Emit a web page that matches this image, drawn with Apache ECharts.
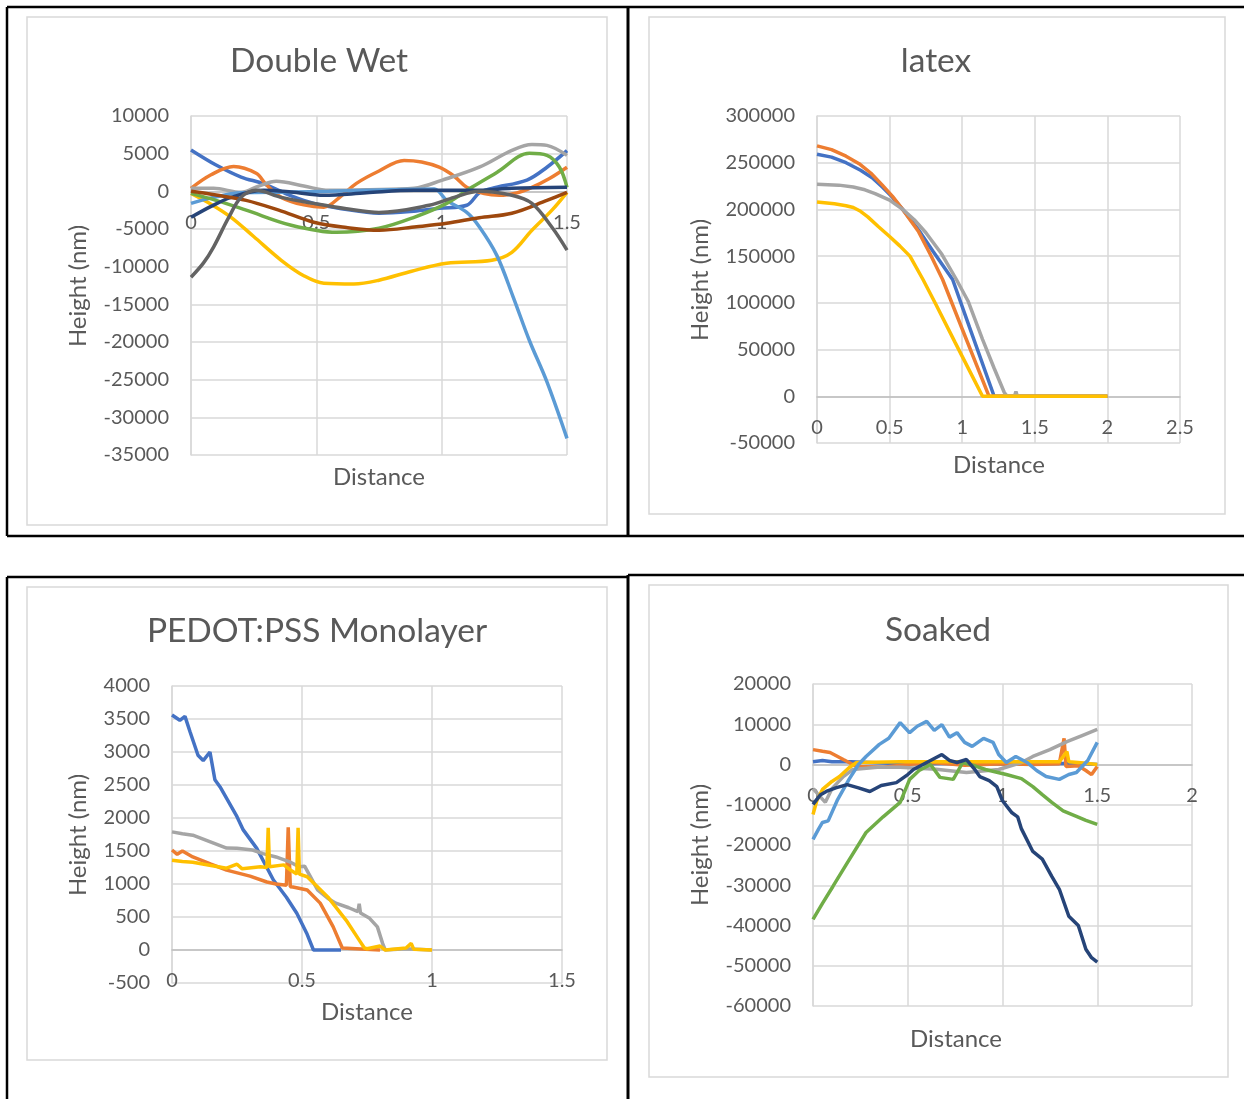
<!DOCTYPE html>
<html>
<head>
<meta charset="utf-8">
<script src="https://cdn.jsdelivr.net/npm/echarts@6/dist/echarts.min.js"></script>
<style>
    html, body { margin: 0; padding: 0; background: #fff; }
    #chart { width: 1244px; height: 1099px; }
</style>
</head>
<body>
<div id="chart"></div>
<script>
// Excel default series colours
const colors = ['#4472C4', '#ED7D31', '#A5A5A5', '#FFC000', '#5B9BD5', '#70AD47', '#264478', '#9E480E', '#636363'];

// ---- Double Wet  (distance, height nm)
const dwBlue = [[0,5500],[0.1,3500],[0.2,1900],[0.29,1000],[0.4,-600],[0.49,-1600],[0.6,-2300],[0.75,-2900],[0.9,-2600],[0.99,-2250],[1.1,-1850],[1.15,-200],[1.2,400],[1.34,1500],[1.42,3200],[1.5,5400]];
const dwOrange = [[0,400],[0.08,2200],[0.17,3300],[0.26,2400],[0.3,900],[0.36,-800],[0.45,-1800],[0.53,-2100],[0.6,-600],[0.66,1060],[0.75,2700],[0.85,4100],[0.92,3900],[0.99,3200],[1.05,2000],[1.1,530],[1.17,-300],[1.23,-530],[1.3,-200],[1.36,530],[1.43,1700],[1.5,3200]];
const dwGray = [[0,400],[0.09,400],[0.2,-130],[0.27,700],[0.34,1330],[0.45,700],[0.55,130],[0.7,200],[0.89,400],[1.0,1460],[1.15,3200],[1.28,5440],[1.36,6230],[1.42,6100],[1.5,4770]];
const dwYellow = [[0,-270],[0.08,-1700],[0.16,-3450],[0.25,-6000],[0.36,-9150],[0.45,-11200],[0.53,-12200],[0.65,-12300],[0.75,-11800],[0.88,-10600],[1.02,-9550],[1.2,-9150],[1.28,-8100],[1.36,-5170],[1.44,-2500],[1.5,-130]];
const dwLightBlue = [[0,-1600],[0.09,-800],[0.2,-200],[0.4,-100],[0.55,0],[0.8,200],[0.97,300],[1.02,-1200],[1.1,-2800],[1.15,-4700],[1.22,-8500],[1.285,-14000],[1.35,-19800],[1.42,-25300],[1.5,-32800]];
const dwGreen = [[0,-270],[0.1,-1200],[0.22,-2500],[0.4,-4500],[0.58,-5440],[0.75,-4900],[0.89,-3450],[1.02,-1600],[1.12,530],[1.22,2500],[1.35,5040],[1.42,4770],[1.47,3200],[1.5,530]];
const dwDarkBlue = [[0,-3450],[0.08,-2000],[0.16,-800],[0.29,130],[0.4,-100],[0.53,-530],[0.7,-200],[0.89,130],[1.15,130],[1.28,400],[1.5,530]];
const dwBrown = [[0,0],[0.1,-500],[0.22,-1200],[0.35,-2500],[0.49,-4100],[0.62,-4800],[0.75,-5170],[0.9,-4700],[1.02,-4250],[1.15,-3500],[1.28,-2900],[1.42,-1200],[1.5,-130]];
const dwDarkGray = [[0,-11400],[0.05,-9500],[0.09,-7400],[0.15,-3500],[0.2,-800],[0.26,130],[0.36,-800],[0.49,-1600],[0.62,-2300],[0.75,-2800],[0.95,-1850],[1.05,-800],[1.15,0],[1.28,-530],[1.36,-1600],[1.44,-4770],[1.5,-7800]];

// ---- latex
const lxBlue = [[0,259000],[0.1,256000],[0.2,250000],[0.3,242000],[0.38,234000],[0.45,224000],[0.52,213000],[0.59,200000],[0.7,178000],[0.8,155000],[0.934,125000],[1.05,74000],[1.22,0],[2.0,0]];
const lxOrange = [[0,268000],[0.1,264000],[0.2,257000],[0.29,249000],[0.37,239000],[0.45,226000],[0.52,214000],[0.59,200000],[0.7,176000],[0.78,152000],[0.865,125000],[1.0,72000],[1.185,0],[2.0,0]];
const lxGray = [[0,227000],[0.15,226000],[0.25,224000],[0.33,221000],[0.4,217000],[0.5,210000],[0.59,200000],[0.67,189000],[0.75,175000],[0.86,152000],[0.96,125000],[1.04,102000],[1.14,61000],[1.22,30000],[1.29,4000],[1.31,0],[1.36,0],[1.37,5000],[1.38,0],[2.0,0]];
const lxYellow = [[0,208000],[0.12,206000],[0.2,204000],[0.25,202000],[0.3,198000],[0.35,192000],[0.42,182000],[0.5,171000],[0.57,161000],[0.64,150000],[0.73,125000],[0.82,98000],[0.95,58000],[1.05,27500],[1.14,0],[2.0,0]];

// ---- PEDOT:PSS Monolayer
const pdBlue = [[0,3560],[0.03,3480],[0.05,3540],[0.07,3300],[0.1,2950],[0.12,2870],[0.146,3000],[0.165,2580],[0.185,2470],[0.25,2020],[0.274,1820],[0.326,1540],[0.39,1060],[0.44,800],[0.48,556],[0.518,255],[0.544,0],[0.65,0]];
const pdOrange = [[0,1515],[0.02,1450],[0.04,1500],[0.08,1410],[0.15,1300],[0.21,1210],[0.3,1120],[0.365,1030],[0.4,1000],[0.44,980],[0.447,1860],[0.455,960],[0.465,955],[0.52,910],[0.57,710],[0.62,350],[0.655,30],[0.66,0],[0.8,0]];
const pdGray = [[0,1790],[0.04,1760],[0.08,1740],[0.12,1680],[0.16,1620],[0.21,1545],[0.25,1540],[0.31,1515],[0.35,1460],[0.4,1410],[0.45,1340],[0.49,1260],[0.51,1270],[0.56,910],[0.6,780],[0.63,710],[0.68,640],[0.715,580],[0.72,700],[0.725,560],[0.76,480],[0.79,350],[0.81,100],[0.82,0],[0.9,20],[1.0,0]];
const pdYellow = [[0,1360],[0.04,1340],[0.08,1330],[0.15,1280],[0.21,1240],[0.25,1300],[0.27,1230],[0.34,1260],[0.365,1250],[0.37,1850],[0.375,1260],[0.43,1290],[0.46,1200],[0.48,1150],[0.485,1850],[0.49,1150],[0.52,1110],[0.6,800],[0.67,450],[0.72,150],[0.74,30],[0.75,20],[0.8,60],[0.82,0],[0.9,30],[0.92,100],[0.93,10],[1.0,0]];

// ---- Soaked
const skBlue = [[0,700],[0.05,1000],[0.1,700],[0.2,700],[0.4,300],[0.6,200],[0.8,300],[1.0,100],[1.2,200],[1.4,300],[1.5,0]];
const skOrange = [[0,3700],[0.05,3300],[0.09,3000],[0.16,1240],[0.23,-500],[0.37,-700],[0.5,0],[0.63,500],[0.8,-200],[1.0,200],[1.16,0],[1.3,200],[1.325,6500],[1.335,-500],[1.4,-300],[1.44,-1500],[1.47,-2500],[1.5,-500]];
const skGray = [[0,-6000],[0.065,-9400],[0.1,-6000],[0.16,-3000],[0.21,-1240],[0.34,-700],[0.46,-700],[0.65,-1200],[0.81,-2000],[0.98,-1240],[1.1,500],[1.16,2000],[1.25,3700],[1.34,5700],[1.42,7200],[1.5,8700]];
const skYellow = [[0,-12400],[0.02,-9000],[0.05,-6200],[0.1,-4200],[0.14,-3000],[0.19,-800],[0.23,500],[0.46,700],[0.98,700],[1.3,700],[1.34,3200],[1.35,700],[1.4,500],[1.5,0]];
const skLightBlue = [[0,-18600],[0.03,-16000],[0.05,-14400],[0.08,-14000],[0.13,-8700],[0.19,-3700],[0.24,0],[0.28,2000],[0.35,5000],[0.4,6500],[0.46,10400],[0.51,7900],[0.55,9500],[0.6,10700],[0.64,8500],[0.68,9900],[0.72,6800],[0.76,7900],[0.8,5500],[0.84,4500],[0.9,6500],[0.95,5500],[0.98,2500],[1.02,500],[1.07,2000],[1.13,500],[1.18,-1500],[1.23,-3000],[1.3,-3700],[1.35,-2500],[1.39,-2000],[1.45,1000],[1.5,5500]];
const skGreen = [[0,-38500],[0.05,-34500],[0.105,-30300],[0.18,-24500],[0.28,-16900],[0.37,-13000],[0.46,-9400],[0.51,-3700],[0.56,-1500],[0.62,0],[0.67,-3200],[0.74,-3700],[0.79,500],[0.85,-300],[0.91,-1240],[1.02,-2480],[1.1,-3500],[1.16,-5500],[1.21,-7500],[1.26,-9400],[1.32,-11500],[1.39,-12900],[1.44,-13900],[1.5,-14900]];
const skDarkBlue = [[0,-9900],[0.04,-7500],[0.07,-6700],[0.12,-5800],[0.18,-5000],[0.24,-5800],[0.3,-6700],[0.36,-5200],[0.44,-4500],[0.5,-2500],[0.53,-1240],[0.58,0],[0.63,1240],[0.68,2480],[0.72,1000],[0.76,500],[0.81,1240],[0.85,-1000],[0.88,-3000],[0.93,-4000],[0.97,-5500],[1.0,-9000],[1.05,-12000],[1.08,-13000],[1.1,-16000],[1.16,-21600],[1.21,-23500],[1.26,-27800],[1.3,-31000],[1.35,-37700],[1.4,-40000],[1.44,-45900],[1.47,-48000],[1.5,-49100]];

const charts = [
    { title: 'Double Wet', grid: { left: 191, top: 116, width: 376, height: 339 }, xMax: 1.5, yMin: -35000, yMax: 10000, yStep: 5000, smooth: 0.35,
      titlePos: [319, 61], yNamePos: [78, 286], xNamePos: [379, 477],
      lines: [dwBlue, dwOrange, dwGray, dwYellow, dwLightBlue, dwGreen, dwDarkBlue, dwBrown, dwDarkGray] },
    { title: 'latex', grid: { left: 817, top: 116, width: 363, height: 327 }, xMax: 2.5, yMin: -50000, yMax: 300000, yStep: 50000, smooth: false,
      titlePos: [936, 61], yNamePos: [700, 280], xNamePos: [999, 465],
      lines: [lxBlue, lxOrange, lxGray, lxYellow] },
    { title: 'PEDOT:PSS Monolayer', grid: { left: 172, top: 686, width: 390, height: 297 }, xMax: 1.5, yMin: -500, yMax: 4000, yStep: 500, smooth: false,
      titlePos: [317, 631], yNamePos: [78, 835], xNamePos: [367, 1012],
      lines: [pdBlue, pdOrange, pdGray, pdYellow] },
    { title: 'Soaked', grid: { left: 813, top: 684, width: 379, height: 322 }, xMax: 2, yMin: -60000, yMax: 20000, yStep: 10000, smooth: false,
      titlePos: [938, 630], yNamePos: [700, 845], xNamePos: [956, 1039],
      lines: [skBlue, skOrange, skGray, skYellow, skLightBlue, skGreen, skDarkBlue] }
];

const textColor = '#595959';
const gridColor = '#d9d9d9';
const font = 'Lato';

function label(text, x, y, size, rot) {
    return {
        type: 'text', x: x, y: y, rotation: rot || 0, z: 10,
        style: {
            text: text, x: 0, y: 0, fill: textColor, font: size + 'px ' + font,
            align: 'center', verticalAlign: 'middle', textAlign: 'center', textVerticalAlign: 'middle'
        }
    };
}

function line(x1, y1, x2, y2, w) {
    return { type: 'line', shape: { x1: x1, y1: y1, x2: x2, y2: y2 }, style: { stroke: '#000', lineWidth: w } };
}

function frame(x, y, w, h) {
    return { type: 'rect', shape: { x: x, y: y, width: w, height: h }, style: { fill: 'none', stroke: gridColor, lineWidth: 1.5 } };
}

let myChart = echarts.init(document.getElementById('chart'));

let graphics = [
    // outer black borders
    line(7, 7, 1244, 7, 2.5),
    line(7, 7, 7, 536, 2.5),
    line(628, 7, 628, 536, 3),
    line(628, 575, 628, 1099, 3),
    line(7, 536, 1244, 536, 2.5),
    line(7, 577, 628, 577, 2.5),
    line(628, 575, 1244, 575, 2.5),
    line(7, 577, 7, 1099, 2.5),
    // chart area frames
    frame(27, 17, 580, 508),
    frame(649, 17, 576, 497),
    frame(27, 587, 580, 473),
    frame(649, 585, 579, 492)
];

let option = {
    animation: false,
    backgroundColor: '#fff',
    grid: [],
    xAxis: [],
    yAxis: [],
    series: [],
    graphic: graphics
};

charts.forEach(function (c, i) {
    option.grid.push(c.grid);
    // x axis sits on the y = 0 line, labels included (as in Excel)
    let zeroOffset = -c.grid.height * (-c.yMin) / (c.yMax - c.yMin);
    option.xAxis.push({
        type: 'value', gridIndex: i, min: 0, max: c.xMax, interval: 0.5,
        position: 'bottom', offset: zeroOffset,
        axisLine: { onZero: false, lineStyle: { color: '#bfbfbf', width: 1.5 } },
        axisTick: { show: false },
        axisLabel: { color: textColor, fontSize: 20, fontFamily: font, margin: 21, formatter: function (v) { return String(v); } },
        splitLine: { show: true, lineStyle: { color: gridColor, width: 1.5 } }
    });
    option.yAxis.push({
        type: 'value', gridIndex: i, min: c.yMin, max: c.yMax, interval: c.yStep,
        axisLine: { show: true, onZero: false, lineStyle: { color: gridColor, width: 1.5 } },
        axisTick: { show: false },
        axisLabel: { color: textColor, fontSize: 20, fontFamily: font, margin: 22, formatter: function (v) { return String(v); } },
        splitLine: { show: true, lineStyle: { color: gridColor, width: 1.5 } }
    });
    c.lines.forEach(function (d, k) {
        option.series.push({
            type: 'line', xAxisIndex: i, yAxisIndex: i, data: d,
            showSymbol: false, symbol: 'none', smooth: c.smooth,
            lineStyle: { color: colors[k], width: 3.5 },
            itemStyle: { color: colors[k] }
        });
    });
    graphics.push(label(c.title, c.titlePos[0], c.titlePos[1], 33.5));
    graphics.push(label('Height (nm)', c.yNamePos[0], c.yNamePos[1], 24, Math.PI / 2));
    graphics.push(label('Distance', c.xNamePos[0], c.xNamePos[1], 24));
});

myChart.setOption(option);
</script>
</body>
</html>
